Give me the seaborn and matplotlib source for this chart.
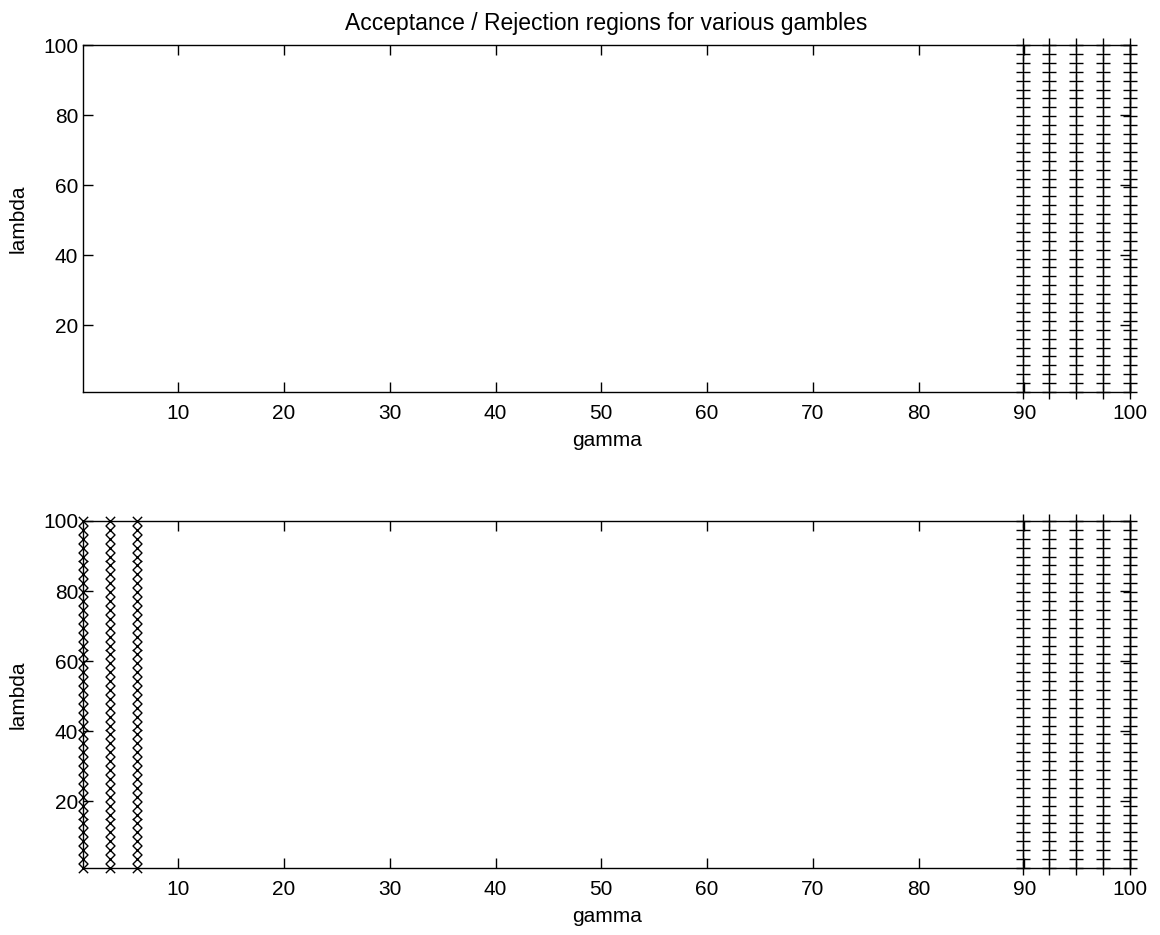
import numpy as np
import pandas as pd
import matplotlib
matplotlib.use('Agg')
import matplotlib.pyplot as plt
import seaborn as sns

# lambda values sampled on each gamma column
lam = [1.0, 3.54, 6.08, 8.62, 11.15, 13.69, 16.23, 18.77, 21.31, 23.85,
       26.38, 28.92, 31.46, 34.0, 36.54, 39.08, 41.62, 44.15, 46.69, 49.23,
       51.77, 54.31, 56.85, 59.38, 61.92, 64.46, 67.0, 69.54, 72.08, 74.62,
       77.15, 79.69, 82.23, 84.77, 87.31, 89.85, 92.38, 94.92, 97.46, 100.0]

# gamma columns where the gamble is accepted (+) / rejected (x)
accept_top = [89.85, 92.38, 94.92, 97.46, 100.0]
reject_top = []
accept_bot = [89.85, 92.38, 94.92, 97.46, 100.0]
reject_bot = [1.0, 3.54, 6.08]

xticks = [10, 20, 30, 40, 50, 60, 70, 80, 90, 100]
yticks = [20, 40, 60, 80, 100]


def grid(gammas):
    return pd.DataFrame([(g, l) for g in gammas for l in lam], columns=['gamma', 'lambda'])


sns.set_style('ticks')
plt.rcParams['font.family'] = ['Liberation Sans', 'DejaVu Sans']
plt.rcParams['font.size'] = 15
plt.rcParams['text.color'] = 'k'
plt.rcParams['axes.labelcolor'] = 'k'

fig = plt.figure(figsize=(11.6, 9.35), dpi=100)
ax1 = fig.add_axes([0.0716, 0.5807, 0.9026, 0.3711])
ax2 = fig.add_axes([0.0716, 0.0717, 0.9026, 0.3711])

for ax, acc, rej in [(ax1, accept_top, reject_top), (ax2, accept_bot, reject_bot)]:
    if acc:
        sns.scatterplot(data=grid(acc), x='gamma', y='lambda', marker='+', color='k',
                        s=100, linewidth=1.0, ax=ax, clip_on=False, zorder=3)
    if rej:
        sns.scatterplot(data=grid(rej), x='gamma', y='lambda', marker='x', color='k',
                        s=45, linewidth=1.0, ax=ax, clip_on=False, zorder=3)
    ax.set_xlim(1, 100)
    ax.set_ylim(1, 100)
    ax.set_xticks(xticks)
    ax.set_yticks(yticks)
    for s in ax.spines.values():
        s.set_visible(True)
        s.set_color('k')
        s.set_linewidth(1.0)
    ax.tick_params(direction='in', length=7, width=1, top=True, right=True,
                   labelsize=15, colors='k')
    ax.tick_params(axis='x', pad=8.5)
    ax.set_xlabel('gamma', fontsize=15, labelpad=6, color='k')
    ax.set_ylabel('lambda', fontsize=15, labelpad=11, color='k')

ax1.set_title('Acceptance / Rejection regions for various gambles', fontsize=16.5,
              pad=11, color='k')

fig.savefig('out.png', dpi=100)
